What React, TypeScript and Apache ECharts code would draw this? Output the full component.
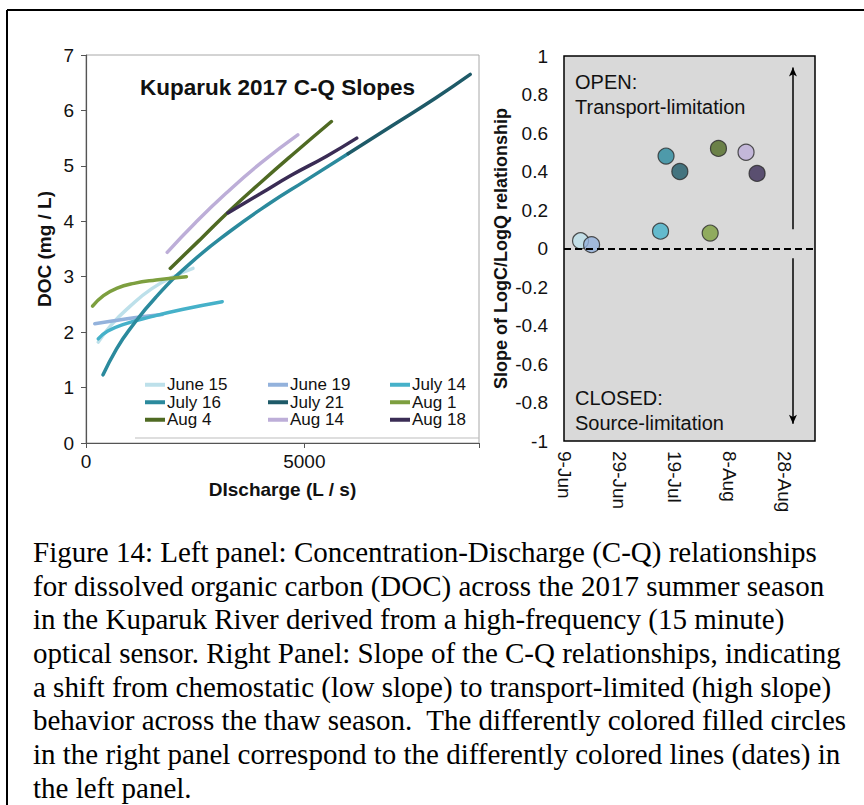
import React, { useEffect, useRef } from "react";
import * as echarts from "echarts";

// ---- Left panel: C-Q curves (discharge L/s, DOC mg/L) ----
const curveNames = ["June 15", "June 19", "July 14", "July 16", "July 21", "Aug 1", "Aug 4", "Aug 14", "Aug 18"];
const curveColors = ["#bde0ea", "#93b2dc", "#46b1c9", "#2b8a9d", "#1e5a68", "#7d9f3f", "#4f6a23", "#bdaed8", "#3a2c55"];

const june15 = [[280, 1.82], [600, 2.15], [1000, 2.46], [1500, 2.78], [2000, 3.0], [2450, 3.15]];
const june19 = [[200, 2.15], [600, 2.2], [1100, 2.26], [1750, 2.32]];
const july14 = [[280, 1.88], [500, 2.02], [900, 2.15], [1500, 2.28], [2200, 2.41], [3120, 2.55]];
const july16 = [[390, 1.23], [700, 1.7], [1000, 2.05], [1600, 2.63], [2400, 3.25], [3300, 3.82], [4200, 4.32], [5000, 4.72], [6000, 5.22]];
const july21 = [[6000, 5.22], [7000, 5.72], [8000, 6.22], [8800, 6.65]];
const aug1 = [[150, 2.47], [400, 2.66], [700, 2.79], [1100, 2.88], [1600, 2.94], [2300, 3.0]];
const aug4 = [[1930, 3.15], [2600, 3.66], [3300, 4.2], [4000, 4.7], [4800, 5.25], [5620, 5.8]];
const aug14 = [[1860, 3.44], [2500, 3.97], [3200, 4.5], [4000, 5.05], [4850, 5.56]];
const aug18 = [[3250, 4.15], [4000, 4.5], [4700, 4.83], [5500, 5.17], [6200, 5.5]];
const curves = [june15, june19, july14, july16, july21, aug1, aug4, aug14, aug18];

const dischargeTicks = [0, 5000];

// ---- Right panel: slope of log C / log Q per sampling date ----
const seasonStart = "2017-06-09";
const sampleDates = ["2017-06-15", "2017-06-19", "2017-07-14", "2017-07-16", "2017-07-21", "2017-08-01", "2017-08-04", "2017-08-14", "2017-08-18"];
const slopes = [0.04, 0.02, 0.09, 0.48, 0.4, 0.08, 0.52, 0.5, 0.39];
const dateTickLabels = ["9-Jun", "29-Jun", "19-Jul", "8-Aug", "28-Aug"];
const seasonEnd = "2017-09-08";
const arrowDate = "2017-08-31";

const caption = [
  "Figure 14: Left panel: Concentration-Discharge (C-Q) relationships",
  "for dissolved organic carbon (DOC) across the 2017 summer season",
  "in the Kuparuk River derived from a high-frequency (15 minute)",
  "optical sensor. Right Panel: Slope of the C-Q relationships, indicating",
  "a shift from chemostatic (low slope) to transport-limited (high slope)",
  "behavior across the thaw season.  The differently colored filled circles",
  "in the right panel correspond to the differently colored lines (dates) in",
  "the left panel.",
];

const DAY = 86400000;
const dayOffset = (d: string) => (Date.parse(d + "T00:00:00Z") - Date.parse(seasonStart + "T00:00:00Z")) / DAY;

const SANS = "'Liberation Sans', Arial, sans-serif";
const SERIF = "'Liberation Serif', 'Times New Roman', serif";

export default function App() {
  const ref = useRef<HTMLDivElement>(null);

  useEffect(() => {
    if (!ref.current) return;
    const chart = echarts.init(ref.current, undefined, { renderer: "svg" });

    const lineSeries = curveNames.map((name, i) => ({
      name,
      type: "line",
      xAxisIndex: 0,
      yAxisIndex: 0,
      data: curves[i],
      smooth: true,
      showSymbol: false,
      symbol: "none",
      lineStyle: { color: curveColors[i], width: 3.5, cap: "round" },
      itemStyle: { color: curveColors[i] },
      z: 3,
    }));

    const legendCommon = {
      orient: "vertical",
      top: 376,
      itemWidth: 20,
      itemHeight: 4,
      itemGap: 0,
      icon: "rect",
      padding: 0,
      selectedMode: false,
      textStyle: { fontFamily: SANS, fontSize: 17, color: "#111", lineHeight: 17.5, padding: [0, 0, 0, -3] },
    };

    const arrowX = dayOffset(arrowDate);

    const option = {
      animation: false,
      backgroundColor: "#fff",
      textStyle: { fontFamily: SANS },
      title: {
        text: "Kuparuk 2017 C-Q Slopes",
        left: 140,
        top: 76,
        padding: 0,
        textStyle: { fontFamily: SANS, fontSize: 22.5, fontWeight: "bold", color: "#111" },
      },
      legend: [
        { ...legendCommon, left: 145, data: ["June 15", "July 16", "Aug 4"] },
        { ...legendCommon, left: 268, data: ["June 19", "July 21", "Aug 14"] },
        { ...legendCommon, left: 390, data: ["July 14", "Aug 1", "Aug 18"] },
      ],
      grid: [
        { left: 86, top: 55, right: 385, bottom: 362, show: true, borderColor: "#a8a8a8", borderWidth: 1, backgroundColor: "#fff" },
        { left: 564, top: 56, right: 49, bottom: 364, show: true, borderColor: "#000", borderWidth: 1.5, backgroundColor: "#d9d9d9" },
      ],
      xAxis: [
        {
          type: "value",
          gridIndex: 0,
          min: 0,
          max: 9000,
          interval: 5000,
          name: "DIscharge (L / s)",
          nameLocation: "middle",
          nameGap: 37,
          nameTextStyle: { fontFamily: SANS, fontSize: 19, fontWeight: "bold", color: "#111" },
          axisLine: { show: true, lineStyle: { color: "#555", width: 1.2 } },
          axisTick: { show: true, length: 5, lineStyle: { color: "#555" } },
          axisLabel: {
            fontFamily: SANS,
            fontSize: 19,
            color: "#111",
            margin: 9,
            formatter: (v: number) => (dischargeTicks.includes(v) ? String(v) : ""),
          },
          splitLine: { show: false },
        },
        {
          type: "value",
          gridIndex: 1,
          min: 0,
          max: dayOffset(seasonEnd),
          interval: 20,
          axisLine: { show: false },
          axisTick: { show: false },
          axisLabel: {
            fontFamily: SANS,
            fontSize: 19,
            color: "#111",
            rotate: -90,
            margin: 10,
            formatter: (v: number) => (v % 20 === 0 && dateTickLabels[v / 20] ? dateTickLabels[v / 20] : ""),
          },
          splitLine: { show: false },
        },
      ],
      yAxis: [
        {
          type: "value",
          gridIndex: 0,
          min: 0,
          max: 7,
          interval: 1,
          name: "DOC (mg / L)",
          nameLocation: "middle",
          nameGap: 32,
          nameTextStyle: { fontFamily: SANS, fontSize: 19, fontWeight: "bold", color: "#111" },
          axisLine: { show: true, lineStyle: { color: "#555", width: 1.2 } },
          axisTick: { show: true, length: 5, lineStyle: { color: "#555" } },
          axisLabel: { fontFamily: SANS, fontSize: 19, color: "#111", margin: 12 },
          splitLine: { show: false },
        },
        {
          type: "value",
          gridIndex: 1,
          min: -1,
          max: 1,
          interval: 0.2,
          name: "Slope of LogC/LogQ relationship",
          nameLocation: "middle",
          nameGap: 54,
          nameTextStyle: { fontFamily: SANS, fontSize: 18, fontWeight: "bold", color: "#111" },
          axisLine: { show: false },
          axisTick: { show: false },
          axisLabel: { fontFamily: SANS, fontSize: 19, color: "#111", margin: 16 },
          splitLine: { show: false },
        },
      ],
      series: [
        ...lineSeries,
        {
          name: "Slope",
          type: "scatter",
          xAxisIndex: 1,
          yAxisIndex: 1,
          symbolSize: 16,
          z: 4,
          data: sampleDates.map((d, i) => ({
            value: [dayOffset(d), slopes[i]],
            itemStyle: { color: curveColors[i], borderColor: "#2a2a2a", borderWidth: 1.2 },
          })),
          markLine: {
            silent: true,
            symbol: "none",
            label: { show: false },
            lineStyle: { color: "#000", width: 2, type: [7, 4] },
            data: [{ yAxis: 0 }],
            z: 5,
          },
        },
        {
          name: "Regime",
          type: "scatter",
          xAxisIndex: 1,
          yAxisIndex: 1,
          data: [],
          markLine: {
            silent: true,
            symbol: ["none", "arrow"],
            symbolSize: [6, 9],
            label: { show: false },
            lineStyle: { color: "#000", width: 1.5, type: "solid" },
            data: [
              [{ coord: [arrowX, 0.1] }, { coord: [arrowX, 0.94] }],
              [{ coord: [arrowX, -0.05] }, { coord: [arrowX, -0.91] }],
            ],
          },
        },
      ],
      graphic: [
        // page frame
        { type: "line", shape: { x1: 7, y1: 10, x2: 864, y2: 10 }, style: { stroke: "#000", lineWidth: 2 } },
        { type: "line", shape: { x1: 7, y1: 10, x2: 7, y2: 805 }, style: { stroke: "#000", lineWidth: 2 } },
        // legend box base line
        { type: "line", shape: { x1: 135, y1: 438, x2: 479, y2: 438 }, style: { stroke: "#bdbdbd", lineWidth: 1 } },
        {
          type: "text",
          left: 575,
          top: 69,
          style: { text: "OPEN:\nTransport-limitation", font: `20px ${SANS}`, fill: "#111", lineHeight: 25 },
          z: 10,
        },
        {
          type: "text",
          left: 575,
          top: 385,
          style: { text: "CLOSED:\nSource-limitation", font: `20px ${SANS}`, fill: "#111", lineHeight: 25 },
          z: 10,
        },
        {
          type: "text",
          left: 33,
          top: 535,
          style: { text: caption.join("\n"), font: `29px ${SERIF}`, fill: "#000", lineHeight: 33.7 },
        },
      ],
    };

    chart.setOption(option as any);
    return () => chart.dispose();
  }, []);

  return <div ref={ref} style={{ position: "absolute", left: 0, top: 0, width: 864, height: 805 }} />;
}
